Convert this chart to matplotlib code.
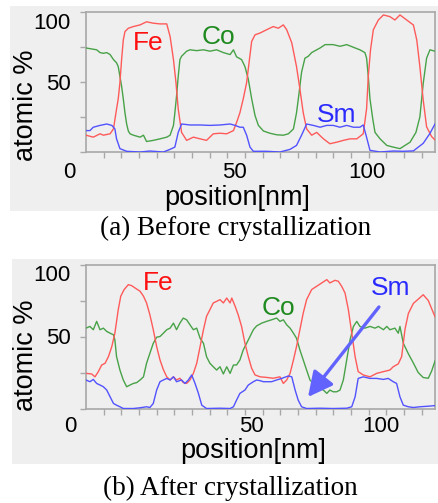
import numpy as np
import matplotlib
matplotlib.use('Agg')
import matplotlib.pyplot as plt
import matplotlib.transforms as mtransforms
from matplotlib.patches import Rectangle
from matplotlib.ticker import MultipleLocator, FixedLocator

plt.rcParams['font.family'] = ['Liberation Sans', 'DejaVu Sans']

# ---- (a) Before crystallization ----
fe_a_pos = [0.0, 2.6, 5.0, 6.2, 8.6, 9.8, 10.9, 11.5, 12.1, 12.7, 13.3, 13.9, 15.1, 16.9, 19.3, 21.6, 24.0, 26.4,
            28.8, 30.0, 31.2, 32.1, 32.9, 34.1, 35.9, 38.3, 40.7, 43.0, 45.4, 47.8, 50.2, 52.6, 53.7, 54.9, 56.1,
            57.3, 58.3, 59.1, 60.3, 62.1, 64.4, 66.8, 68.6, 70.4, 71.6, 73.4, 75.1, 76.3, 77.5, 78.7, 80.5, 82.3,
            84.7, 87.0, 89.4, 91.8, 94.2, 96.6, 98.9, 100.1, 100.7, 101.5, 102.5, 104.3, 106.1, 108.4, 110.2,
            112.0, 114.4, 116.8, 118.0, 119.1, 120.3, 121.5, 123.3, 124.5]
fe_a = [12, 10.6, 13, 12, 13, 16.5, 30.7, 38, 49.5, 66, 80, 86, 88.4, 89.6, 90.8, 93, 92, 91.5, 91.5, 82.5, 66,
        49.5, 30.7, 14, 8.3, 10.6, 9.4, 8.3, 13, 13.4, 13, 15.3, 21, 28, 38, 49.5, 66, 79, 83.7, 85, 87.3, 89.6,
        88.4, 90.8, 87.3, 78, 61, 45, 28, 16.5, 12, 14, 9.4, 5.9, 7, 8.3, 9.4, 9.4, 13, 31, 54, 73, 87.3, 94.3,
        97.9, 96.7, 94.3, 97.9, 94.3, 90.7, 80, 61, 37, 18, 11, 8.6]

co_a_pos = [0.0, 3.8, 5.0, 6.2, 7.4, 8.6, 9.8, 10.9, 11.5, 12.1, 12.7, 13.3, 13.9, 14.5, 15.1, 15.7, 16.9, 19.3,
            20.5, 21.6, 24.0, 26.4, 28.8, 30.0, 31.2, 31.7, 32.3, 32.9, 33.5, 34.1, 35.9, 37.1, 39.5, 41.9, 44.2,
            46.6, 49.0, 51.4, 52.6, 53.7, 55.5, 56.7, 57.9, 59.1, 60.3, 61.5, 63.3, 65.6, 68.0, 70.4, 72.2, 74.0,
            75.1, 76.0, 76.9, 78.1, 79.3, 80.5, 82.3, 83.5, 85.3, 88.2, 90.6, 93.0, 95.4, 97.7, 99.5, 100.1,
            100.7, 101.3, 102.3, 103.1, 104.9, 107.3, 109.6, 112.0, 113.8, 115.6, 117.7, 119.1, 120.3, 121.5,
            122.7, 124.5]
co_a = [74.3, 73, 71, 70.5, 71, 69.6, 66, 63.7, 61, 54, 47, 38, 28, 20, 15, 13, 12, 10.6, 12, 7.5, 8.3, 9.4,
        10.6, 12, 19, 28, 40, 54, 66, 68.4, 72, 73, 72.4, 73, 72, 73, 71, 69.6, 73, 68, 66, 61, 52, 38, 26, 19,
        15, 13.4, 12.3, 12, 13, 16.5, 28, 42, 57, 67, 68.4, 71, 73, 74.3, 76.7, 76.7, 75.5, 76.7, 74.8, 73, 71,
        67, 54, 38, 23.6, 14, 9.4, 4.7, 3.5, 2.4, 4.7, 7, 14, 25, 49, 67, 73, 72]

sm_a_pos = [0.0, 1.4, 2.6, 5.0, 7.4, 9.2, 10.3, 10.9, 12.1, 14.5, 19.3, 22.8, 27.6, 30.0, 31.7, 32.9, 34.1, 37.1,
            40.7, 44.2, 47.8, 51.4, 53.2, 54.9, 56.1, 57.3, 58.5, 59.7, 64.4, 69.2, 72.8, 75.1, 76.9, 78.7, 81.1,
            83.5, 85.9, 88.2, 90.6, 93.0, 95.4, 97.7, 98.9, 99.9, 101.3, 104.9, 109.6, 113.2, 116.8, 120.3,
            122.7, 124.5]
sm_a = [15.3, 15.3, 17.7, 19, 20, 19, 16.5, 9.4, 2.4, 0.5, 0, 0.7, 0, 1.9, 3.5, 14, 20, 19.3, 19.3, 19, 19.3,
        20, 19, 17.7, 17.7, 12, 3.5, 0.5, 0.5, 0, 1.9, 4.7, 12, 20, 19, 17.7, 19, 19, 17.7, 19, 17.7, 17.7, 19.3,
        12, 1.2, 0, 0.7, 0.5, 0.8, 6.2, 13.3, 20]

# ---- (b) After crystallization ----
fe_b_pos = [0.0, 2.0, 3.2, 4.4, 5.6, 6.8, 8.0, 9.2, 10.3, 11.5, 12.4, 13.6, 15.1, 16.3, 17.5, 19.3, 20.5, 21.6,
            22.8, 24.0, 25.2, 26.4, 27.6, 28.8, 30.0, 31.2, 32.3, 33.5, 34.7, 35.9, 37.1, 38.3, 39.5, 40.7, 41.9,
            43.0, 44.2, 45.4, 46.6, 47.8, 49.0, 50.2, 51.4, 52.0, 53.2, 54.3, 55.5, 56.7, 57.9, 59.1, 60.3, 62.1,
            64.4, 66.8, 69.2, 70.4, 71.6, 72.8, 74.0, 75.1, 76.3, 77.5, 78.7, 80.5, 82.3, 84.1, 85.9, 87.0, 88.8,
            90.0, 91.2, 92.4, 93.6, 94.8, 96.0, 97.1, 98.9, 101.3, 103.7, 106.1, 108.4, 109.6, 111.4, 112.6,
            113.8, 115.0, 116.8, 120.3, 122.1, 124.5]
fe_b = [24.4, 24, 22, 25.6, 30.2, 31.4, 36, 43, 52.3, 68.6, 78, 82.6, 86, 85.3, 83.7, 81.4, 78, 73.3, 65, 54.7,
        43, 33.7, 27, 22, 19.8, 22, 19.8, 21, 18, 17.4, 19.8, 24.4, 31.4, 43, 54.7, 64, 68.6, 73.3, 74.4, 75.6,
        73.3, 76.7, 73.3, 76.7, 71, 65, 57, 45.3, 36, 27.9, 23.3, 22, 21.6, 21, 22, 17.4, 19.8, 24.4, 33.7, 43,
        54.7, 66.3, 75.6, 82.6, 84.9, 87.2, 89.5, 87.2, 89, 88.4, 84.9, 80.2, 68.6, 52.3, 36, 25.6, 23.3, 22,
        24.4, 25.6, 26.7, 29, 31, 36, 55, 66, 73, 79, 75, 63.7]

co_b_pos = [0.0, 1.4, 2.6, 3.8, 5.0, 6.2, 7.4, 8.6, 9.8, 10.3, 10.9, 12.1, 13.3, 14.5, 15.7, 16.9, 18.1, 19.3,
            20.5, 21.6, 22.8, 24.0, 25.2, 26.4, 27.6, 28.8, 30.0, 31.2, 32.3, 33.5, 34.7, 35.9, 37.1, 38.3, 39.5,
            40.7, 41.9, 43.0, 44.2, 45.4, 46.6, 47.8, 49.0, 50.2, 51.4, 52.6, 53.7, 54.9, 56.1, 57.3, 58.5, 59.7,
            60.9, 62.7, 64.4, 66.2, 68.0, 69.2, 70.4, 71.6, 72.8, 74.0, 75.1, 76.3, 77.5, 78.7, 79.9, 81.1, 82.3,
            83.5, 84.7, 85.9, 87.0, 88.2, 89.4, 90.6, 91.8, 93.0, 94.2, 95.4, 96.6, 97.7, 99.5, 101.3, 103.1,
            104.3, 106.1, 107.3, 108.4, 110.2, 111.4, 112.0, 113.2, 115.0, 116.8, 118.5, 120.3, 122.1, 123.3,
            124.5]
co_b = [55.8, 57, 54.7, 60.5, 54.7, 55.8, 53.5, 52.3, 51.2, 47.7, 36, 26.7, 19.8, 15.1, 16.3, 17.4, 18, 19.8,
        22, 31.4, 38.4, 45.3, 49.5, 50, 52.3, 54.7, 55.8, 59.3, 54.7, 59.3, 62.8, 61.6, 58.1, 54.7, 55.8, 48.8,
        45.3, 36, 31.4, 29, 26.7, 29, 24, 29, 24.4, 30.2, 30.2, 33.7, 40.7, 45.3, 50, 54.7, 57.4, 59.3, 60.5,
        61.6, 62.8, 60.5, 61.6, 58.1, 55.8, 52.3, 48.8, 40.7, 33.7, 26.7, 19.8, 17.4, 15.1, 14, 12.8, 10.5,
        12.8, 11.6, 11.6, 12.8, 19.8, 33.7, 47.7, 57, 60.5, 57, 55.8, 57, 55.8, 57, 54.7, 57, 54.7, 55.8, 52.3,
        57, 45.3, 38, 31.5, 25, 21.5, 21, 26, 33]

sm_b_pos = [0.0, 1.4, 2.6, 3.8, 5.0, 6.2, 7.4, 8.6, 9.8, 10.9, 12.1, 13.3, 16.9, 19.3, 21.6, 22.8, 24.0, 25.2,
            26.4, 27.6, 28.8, 30.0, 31.2, 32.3, 34.1, 35.3, 36.5, 37.7, 38.9, 40.1, 41.3, 43.0, 47.8, 51.4, 52.6,
            53.7, 54.9, 56.7, 57.9, 59.7, 60.9, 62.1, 63.3, 64.4, 66.2, 68.0, 69.8, 72.2, 73.4, 74.6, 75.7, 76.9,
            78.7, 83.5, 88.2, 93.0, 94.8, 96.0, 97.1, 98.9, 101.3, 103.7, 106.1, 107.8, 109.6, 110.8, 112.0,
            113.2, 115.0, 116.8, 119.1, 122.1, 124.5]
sm_b = [19.8, 18.6, 20.2, 17.4, 16.3, 15.1, 12.8, 8.1, 3.5, 2.3, 1.2, 0, 0, 0.5, 1.2, 0.7, 3.5, 12.8, 18.6,
        19.8, 20.9, 19.8, 22, 18.6, 19.8, 17.4, 19.8, 23.3, 17.4, 10.5, 2.3, 0, 0.2, 0, 1.2, 5.8, 10.5, 12.8,
        16.3, 18.6, 19.8, 19.3, 18.6, 18.6, 18.6, 19.8, 20.9, 22.6, 22, 12.8, 5.8, 1.2, 0, 0.2, 0, 0.2, 1.2, 8.1,
        20.9, 22, 20.9, 20.9, 20.2, 20.9, 18.6, 17.4, 8.1, 2.3, 1.2, 0.7, 1.2, 1.6, 2.0]

x_ticks = [0, 50, 100]
x_tick_labels = ['0', '50', '100']
y_ticks = [0, 50, 100]
y_tick_labels = ['', '50', '100']
captions = ['(a) Before crystallization', '(b) After crystallization']

BG = '#efefef'
LINE_COLORS = {'Fe': '#ff5a5a', 'Co': '#48a248', 'Sm': '#5252ff'}
TEXT_COLORS = {'Fe': '#ff1010', 'Co': '#1f8a1f', 'Sm': '#2a2aff'}
W, H = 438, 503


def shift_label(fig, label, dx_px, dy_px):
    """把刻度标签挪几个像素"""
    off = mtransforms.ScaledTranslation(dx_px / fig.dpi, dy_px / fig.dpi, fig.dpi_scale_trans)
    label.set_transform(label.get_transform() + off)


def draw_panel(fig, rect, series, labels, xshift, yshift, xpad, xlabel_xy, ylabel_xy):
    ax = fig.add_axes(rect)
    ax.set_facecolor(BG)
    for name, pos, val in series:
        ax.plot(pos, val, color=LINE_COLORS[name], lw=1.0, zorder=3)
    for name, (tx, ty) in labels.items():
        ax.text(tx, ty, name, color=TEXT_COLORS[name], fontsize=19, ha='center', va='center', zorder=4)

    ax.set_xlim(0, 124.5)
    ax.set_ylim(0, 100)
    for s in ax.spines.values():
        s.set_color('#a8a8a8')
        s.set_linewidth(1.2)

    ax.xaxis.set_major_locator(FixedLocator(x_ticks))
    ax.set_xticklabels(x_tick_labels)
    ax.xaxis.set_minor_locator(MultipleLocator(6.3))
    ax.yaxis.set_major_locator(FixedLocator(y_ticks))
    ax.set_yticklabels(y_tick_labels)
    ax.yaxis.set_minor_locator(FixedLocator([25, 75]))
    ax.tick_params(axis='x', which='major', length=0, pad=xpad + 2.9, labelsize=16)
    ax.tick_params(axis='x', which='minor', length=4, width=1, color='#a8a8a8')
    ax.tick_params(axis='y', which='both', length=4, width=1, color='#a8a8a8', pad=7, labelsize=16)

    for lab, dx in zip(ax.get_xticklabels(), xshift):
        shift_label(fig, lab, dx, 0)
    for lab, dy in zip(ax.get_yticklabels(), yshift):
        shift_label(fig, lab, 0, dy)

    ax.set_xlabel('position[nm]', fontsize=19.5)
    ax.set_ylabel('atomic %', fontsize=19.5)
    ax.xaxis.set_label_coords(*xlabel_xy)
    ax.yaxis.set_label_coords(*ylabel_xy)
    return ax


def main():
    fig = plt.figure(figsize=(W / 100, H / 100), dpi=100)

    # 灰色底板, 放在坐标轴下面
    fig.patches.append(Rectangle((10 / W, 1 - 211 / H), 428 / W, 205 / H, transform=fig.transFigure,
                                 facecolor=BG, edgecolor='none', zorder=-5))
    fig.patches.append(Rectangle((12 / W, 1 - 464 / H), 426 / W, 205 / H, transform=fig.transFigure,
                                 facecolor=BG, edgecolor='none', zorder=-5))

    draw_panel(fig, [86 / W, 1 - 152 / H, 349 / W, 140 / H],
               [('Co', co_a_pos, co_a), ('Fe', fe_a_pos, fe_a), ('Sm', sm_a_pos, sm_a)],
               {'Fe': (22.1, 77.9), 'Co': (47.1, 82.1), 'Sm': (89.5, 26.4)},
               xshift=[-17, 8, 1], yshift=[0, 0, -9], xpad=4.5,
               xlabel_xy=(0.433, -0.236), ylabel_xy=(-0.1355, 0.336))

    ax_b = draw_panel(fig, [86 / W, 1 - 408.5 / H, 349 / W, 144 / H],
                      [('Co', co_b_pos, co_b), ('Fe', fe_b_pos, fe_b), ('Sm', sm_b_pos, sm_b)],
                      {'Fe': (25.7, 87.2), 'Co': (68.5, 69.8), 'Sm': (108.5, 83.7)},
                      xshift=[-16, 25, 15], yshift=[0, 0, -8.5], xpad=2.5,
                      xlabel_xy=(0.478, -0.202), ylabel_xy=(-0.1355, 0.372))
    ax_b.annotate('', xy=(79.2, 8.0), xytext=(104.5, 70.5),
                  arrowprops=dict(arrowstyle='-|>,head_length=0.75,head_width=0.38', color='#6262ff',
                                  lw=2.4, mutation_scale=20, shrinkA=0, shrinkB=0), zorder=5)

    fig.text(236 / W, 1 - 228 / H, captions[0], fontsize=19.5, family='Liberation Serif',
             ha='center', va='center')
    fig.text(230 / W, 1 - 488 / H, captions[1], fontsize=19.5, family='Liberation Serif',
             ha='center', va='center')

    fig.savefig('out.png', dpi=100, facecolor='white')


if __name__ == "__main__":
    main()
